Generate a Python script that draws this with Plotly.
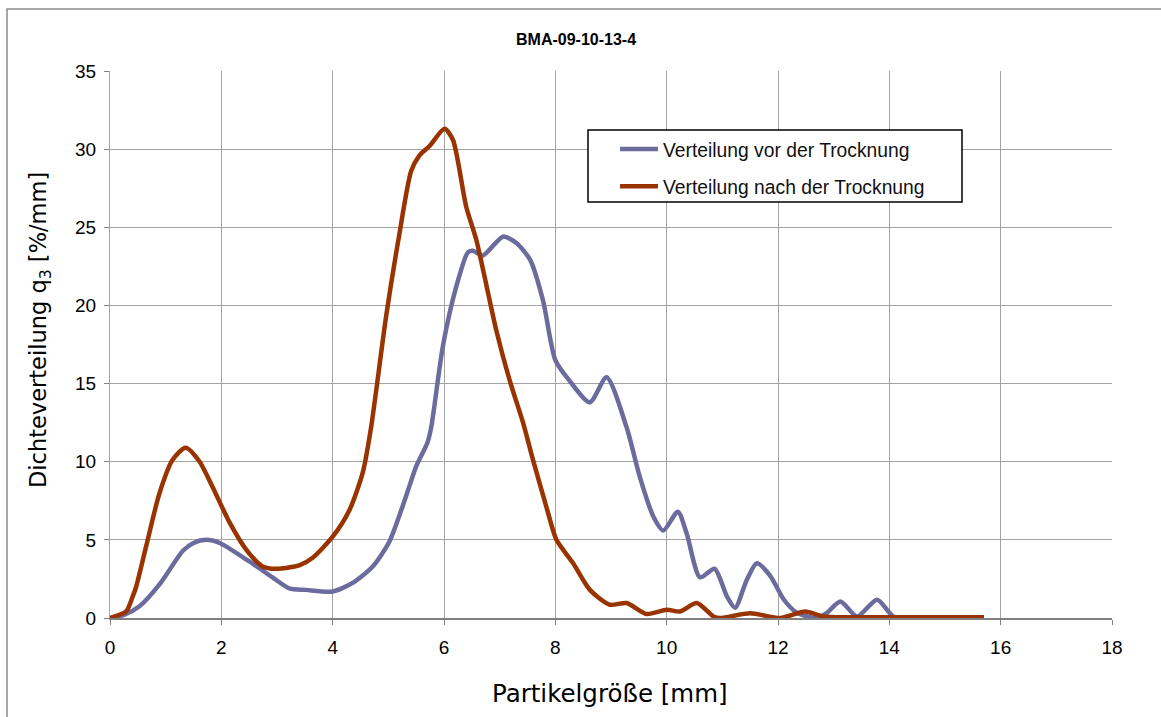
import plotly.graph_objects as go

# Data
x_vor = [0, 0.25, 0.53, 0.9, 1.31, 1.5, 1.73, 1.97, 2.51, 2.92, 3.22, 3.52, 4.0, 4.36, 4.72,
         5.02, 5.3, 5.5, 5.7, 5.77, 5.98, 6.22, 6.43, 6.52, 6.7, 7.06, 7.3, 7.55, 7.78, 8.0,
         8.25, 8.62, 8.92, 9.28, 9.52, 9.76, 9.94, 10.2, 10.36, 10.6, 10.86, 11.08, 11.23,
         11.44, 11.62, 11.86, 12.1, 12.34, 12.7, 12.88, 13.12, 13.42, 13.78, 14.07, 14.3]
y_vor = [0, 0.2, 0.75, 2.2, 4.3, 4.8, 5.0, 4.8, 3.6, 2.6, 1.9, 1.8, 1.7, 2.25, 3.3,
         4.9, 7.6, 9.7, 11.2, 12.2, 17.4, 21.2, 23.4, 23.5, 23.2, 24.4, 24.0, 22.9, 20.3, 16.5,
         15.2, 13.8, 15.4, 12.2, 9.0, 6.5, 5.6, 6.8, 5.4, 2.6, 3.15, 1.4, 0.65,
         2.45, 3.5, 2.7, 1.2, 0.33, 0.0, 0.33, 1.06, 0.1, 1.17, 0.1, 0.0]

x_nach = [0, 0.29, 0.4, 0.47, 0.65, 0.89, 1.12, 1.36, 1.61, 1.84, 2.15, 2.45, 2.74, 2.98, 3.4,
          3.64, 4.0, 4.3, 4.54, 4.69, 4.96, 5.2, 5.41, 5.56, 5.74, 6.01, 6.16, 6.4, 6.58, 6.94,
          7.18, 7.42, 7.6, 7.84, 8.02, 8.32, 8.62, 8.98, 9.28, 9.64, 10.0, 10.24, 10.54, 10.84,
          10.96, 11.5, 12.04, 12.49, 12.82, 13.5, 14.5, 15.7]
y_nach = [0, 0.42, 1.3, 2.0, 4.6, 8.0, 10.1, 10.9, 10.0, 8.4, 6.1, 4.36, 3.3, 3.15, 3.36,
          3.85, 5.2, 6.9, 9.3, 12.2, 19.3, 24.6, 28.6, 29.6, 30.2, 31.3, 30.6, 26.3, 24.2, 18.4,
          15.2, 12.5, 10.1, 7.1, 5.0, 3.5, 1.8, 0.85, 0.96, 0.26, 0.53, 0.42, 0.96, 0.1,
          0.0, 0.3, 0.0, 0.42, 0.1, 0.05, 0.05, 0.05]

x_ticks = [0, 2, 4, 6, 8, 10, 12, 14, 16, 18]
y_ticks = [0, 5, 10, 15, 20, 25, 30, 35]

title_text = "BMA-09-10-13-4"
x_title = "Partikelgröße [mm]"
y_title = "Dichteverteilung q<sub>3</sub> [%/mm]"
name_vor = "Verteilung vor der Trocknung"
name_nach = "Verteilung nach der Trocknung"

fig = go.Figure()
fig.add_trace(go.Scatter(x=x_vor, y=y_vor, mode="lines", name=name_vor, legendgroup="a",
                         line=dict(color="#6B6B9E", width=4.5, shape="spline", smoothing=0.7)))
fig.add_trace(go.Scatter(x=x_nach, y=y_nach, mode="lines", name=name_nach, legendgroup="b",
                         line=dict(color="#993300", width=4.5, shape="spline", smoothing=0.7)))

L, R, T, B = 110, 49, 71, 99
W, H = 1161, 717
pw, ph = W - L - R, H - T - B

def px_x(p):
    return (p - L) / pw

def px_y(p):
    return (H - B - p) / ph

tick_font = dict(family="Liberation Sans, Arial", size=19, color="black")

fig.update_layout(
    width=W, height=H,
    margin=dict(l=L, r=R, t=T, b=B),
    paper_bgcolor="white", plot_bgcolor="white",
    font=dict(family="Liberation Sans, Arial", size=16, color="black"),
    showlegend=True,
    legend=dict(x=px_x(615), y=px_y(130), xanchor="left", yanchor="top",
                bgcolor="rgba(0,0,0,0)", borderwidth=0,
                font=dict(family="Liberation Sans, Arial", size=19.3, color="#111"),
                itemwidth=38, tracegroupgap=9, traceorder="grouped"),
    xaxis=dict(range=[0, 18], tickvals=x_ticks, ticktext=[str(v) for v in x_ticks],
               showgrid=True, gridcolor="#A3A3A3", gridwidth=1,
               showline=True, linecolor="#808080", linewidth=1.5,
               ticks="outside", ticklen=5, tickcolor="#808080",
               tickfont=tick_font, ticklabelstandoff=6,
               zeroline=False, fixedrange=True),
    yaxis=dict(range=[0, 35], tickvals=y_ticks, ticktext=[str(v) for v in y_ticks],
               showgrid=True, gridcolor="#A3A3A3", gridwidth=1,
               showline=True, linecolor="#A3A3A3", linewidth=1,
               ticks="outside", ticklen=5, tickcolor="#808080",
               tickfont=tick_font, ticklabelstandoff=4,
               zeroline=False, fixedrange=True),
)

# Title
fig.add_annotation(text="<b>" + title_text + "</b>", xref="paper", yref="paper",
                   x=px_x(576), y=px_y(40), xanchor="center", yanchor="middle",
                   showarrow=False, font=dict(family="Liberation Sans, Arial", size=16, color="black"))

# Axis titles
fig.add_annotation(text=x_title, xref="paper", yref="paper",
                   x=px_x(610), y=px_y(693), xanchor="center", yanchor="middle",
                   showarrow=False, font=dict(family="DejaVu Sans", size=24.5, color="black"))
fig.add_annotation(text=y_title, xref="paper", yref="paper", textangle=-90,
                   x=px_x(40), y=px_y(330), xanchor="center", yanchor="middle",
                   showarrow=False, font=dict(family="DejaVu Sans", size=22.5, color="black"))

# Outer chart border
fig.add_shape(type="rect", xref="paper", yref="paper",
              x0=px_x(7), x1=px_x(1180), y0=px_y(740), y1=px_y(9),
              line=dict(color="#8C8C8C", width=1.5), fillcolor="rgba(0,0,0,0)", layer="below")

# Legend frame
fig.add_shape(type="rect", xref="paper", yref="paper",
              x0=px_x(588), x1=px_x(962), y0=px_y(202), y1=px_y(130),
              line=dict(color="black", width=1.5), fillcolor="white", layer="above")

fig.write_html("out.html")
